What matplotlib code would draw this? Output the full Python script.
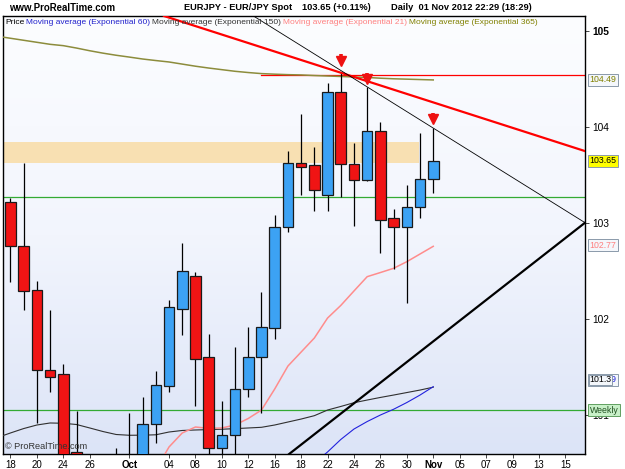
import numpy as np
import matplotlib.pyplot as plt
from matplotlib.colors import LinearSegmentedColormap
from matplotlib.transforms import blended_transform_factory

plt.rcParams['font.family'] = ['Liberation Sans', 'DejaVu Sans']

# EURJPY daily bars, 18 Sep 2012 .. 01 Nov 2012 (bar index 0..32)
opens = [103.216, 102.757, 102.299, 101.469, 101.424, 100.61, 100.45, 100.35, 100.30, 100.45,
         100.40, 100.909, 101.299, 102.101, 102.448, 101.604, 100.659, 100.789, 101.268, 101.601,
         101.909, 102.962, 103.622, 103.601, 103.292, 104.361, 103.611, 103.448, 103.958, 103.049,
         102.962, 103.163, 103.455]
closes = [102.757, 102.292, 101.469, 101.393, 100.40, 100.40, 100.30, 100.30, 100.45, 100.40,
          100.903, 101.309, 102.122, 102.500, 101.580, 100.659, 100.789, 101.268, 101.607, 101.914,
          102.962, 103.622, 103.587, 103.344, 104.361, 103.611, 103.448, 103.958, 103.031, 102.962,
          103.163, 103.455, 103.650]
highs = [103.264, 103.622, 102.396, 102.094, 101.531, 101.045, 100.52, 100.50, 100.656, 101.018,
         101.191, 101.458, 102.198, 102.795, 102.493, 101.844, 101.146, 101.711, 101.914, 102.284,
         103.083, 103.750, 104.135, 103.789, 104.455, 104.559, 103.830, 104.420, 104.049, 103.146,
         103.396, 103.934, 103.986]
lows = [102.389, 102.094, 100.920, 101.243, 100.30, 100.30, 100.20, 100.15, 100.20, 100.25,
        100.30, 100.705, 101.243, 101.833, 101.094, 100.55, 100.55, 100.55, 101.191, 101.018,
        101.792, 102.903, 103.292, 103.128, 103.128, 103.274, 102.972, 103.438, 102.684, 102.518,
        102.163, 103.055, 103.316]

# moving averages (first value belongs to bar index given by *_start)
ema365_start = -1
ema365 = [104.945, 104.924, 104.903, 104.882, 104.861, 104.847, 104.822, 104.794, 104.769, 104.747,
          104.728, 104.708, 104.692, 104.677, 104.655, 104.633, 104.614, 104.597, 104.580, 104.567,
          104.556, 104.550, 104.545, 104.542, 104.536, 104.531, 104.526, 104.521, 104.516, 104.508,
          104.502, 104.498, 104.494, 104.49]
ema150_start = -1
ema150 = [100.765, 100.813, 100.859, 100.896, 100.917, 100.914, 100.901, 100.865, 100.828, 100.797,
          100.789, 100.790, 100.794, 100.823, 100.839, 100.844, 100.848, 100.852, 100.858, 100.865,
          100.872, 100.896, 100.927, 100.958, 100.993, 101.052, 101.089, 101.128, 101.156, 101.183,
          101.208, 101.234, 101.260, 101.29]
ema60_start = 20
ema60 = [100.25, 100.32, 100.40, 100.50, 100.615, 100.745, 100.854, 100.932, 101.0, 101.060,
         101.130, 101.208, 101.295]
ema21_start = 11
ema21 = [100.43, 100.667, 100.813, 100.875, 100.861, 100.865, 100.896, 100.964, 101.052, 101.271,
         101.510, 101.656, 101.802, 102.010, 102.141, 102.292, 102.441, 102.484, 102.528, 102.597,
         102.677, 102.757]

# drawn objects
zone_low, zone_high, zone_end = 103.628, 103.847, 30.95
green_levels = [103.268, 101.052]
red_level, red_level_start = 104.538, 19.0
red_trend = [(24.19, 104.601), (43.62, 103.743)]
thin_trend = [(26.97, 104.420), (43.49, 103.003)]
thick_trend = [(21.16, 100.601), (43.49, 103.003)]
arrow_x = [25, 27, 32]
arrow_tip = [104.664, 104.472, 104.055]

tick_pos = [0, 2, 4, 6, 9, 12, 14, 16, 18, 20, 22, 24, 26, 28, 30, 32, 34, 36, 38, 40, 42]
tick_labels = ['18', '20', '24', '26', 'Oct', '04', '08', '10', '12', '16', '18', '22', '24',
               '26', '30', 'Nov', '05', '07', '09', '13', '15']

fig = plt.figure(figsize=(6.25, 4.69), dpi=100)
ax = fig.add_axes([0.0043, 0.032, 0.9322, 0.9339])
x0, x1 = -0.59, 43.51
y0, y1 = 100.594, 105.156

bg = LinearSegmentedColormap.from_list('bg', ['#fcfdff', '#f2f5fd', '#dce4f7'])
ax.imshow(np.linspace(0, 1, 256).reshape(-1, 1), cmap=bg, extent=(x0, x1, y0, y1),
          aspect='auto', origin='upper', zorder=0)

# support zone and levels
ax.fill_between([x0, zone_end], zone_low, zone_high, color='#f8e0b2', lw=0, zorder=1)
for lv in green_levels:
    ax.axhline(lv, color='#33aa33', lw=0.9, zorder=2)
ax.plot([red_level_start, x1], [red_level, red_level], color='#ff0000', lw=0.9, zorder=2)

# moving averages
ax.plot(np.arange(len(ema365)) + ema365_start, ema365, color='#8c8c3c', lw=1.1, zorder=3)
ax.plot(np.arange(len(ema150)) + ema150_start, ema150, color='#303030', lw=0.8, zorder=3)
ax.plot(np.arange(len(ema60)) + ema60_start, ema60, color='#2222dd', lw=0.8, zorder=3)
ax.plot(np.arange(len(ema21)) + ema21_start, ema21, color='#ff8c8c', lw=1.1, zorder=3)

# candles
idx = np.arange(len(opens))
o = np.array(opens)
c = np.array(closes)
cols = np.where(c >= o, '#3ca2f4', '#f01414')
ax.vlines(idx, lows, highs, color='black', lw=0.9, zorder=4)
ax.bar(idx, c - o, bottom=o, width=0.8, color=cols, edgecolor='#1a1a1a', lw=0.9, zorder=5)

# trend lines
ax.axline(red_trend[0], red_trend[1], color='#ff0000', lw=1.6, zorder=6)
ax.axline(thin_trend[0], thin_trend[1], color='black', lw=0.6, zorder=6)
ax.axline(thick_trend[0], thick_trend[1], color='black', lw=1.6, zorder=6)

# red down arrows above the rejected highs
for xa, ya in zip(arrow_x, arrow_tip):
    ax.plot([xa, xa], [ya + 0.04, ya + 0.095], color='#ee1111', lw=2.6,
            solid_capstyle='butt', zorder=7)
    ax.plot(xa, ya + 0.028, marker='v', ms=6.5, color='#ee1111', mec='#ee1111', zorder=7)

ax.set_xlim(x0, x1)
ax.set_ylim(y0, y1)

ax.yaxis.tick_right()
ax.set_yticks([101, 102, 103, 104, 105])
ax.set_yticklabels(['101', '102', '103', '104', '105'])
ax.get_yticklabels()[-1].set_fontweight('bold')
ax.set_xticks(tick_pos)
ax.set_xticklabels(tick_labels)
for t in ax.get_xticklabels():
    if t.get_text() in ('Oct', 'Nov'):
        t.set_fontweight('bold')
ax.tick_params(axis='both', direction='out', length=3, width=0.7, color='#444444',
               labelsize=7.3, pad=2)
ax.tick_params(axis='x', labelsize=7, pad=1)
for s in ax.spines.values():
    s.set_color('black')
    s.set_linewidth(1)

# value boxes on the price axis
tr = blended_transform_factory(ax.transAxes, ax.transData)
def tag(txt, y, fc, tc, ec='#8a9aaa', pad=0.18):
    ax.text(1.0075, y, txt, transform=tr, va='center', ha='left', fontsize=6.3, color=tc,
            bbox=dict(boxstyle='square,pad=%s' % pad, fc=fc, ec=ec, lw=0.7), clip_on=False,
            zorder=9)

tag('104.49', 104.49, '#f4f7fb', '#808000')
tag('103.65', 103.65, '#ffff00', 'black')
tag('102.77', 102.77, '#f4f7fb', '#ff8080')
tag('101.39', 101.365, '#f4f7fb', '#2222dd')
tag('101.3', 101.365, '#f4f7fb', 'black', pad=0.05)
tag('Weekly', 101.05, '#c8f0c8', '#205020', ec='#60a060')

ax.text(0.004, 0.012, '\u00a9 ProRealTime.com', transform=ax.transAxes, fontsize=6.6,
        color='#333333', zorder=10)

# header
fig.text(9 / 625, 0.983, 'www.ProRealTime.com', fontsize=6.9, fontweight='bold', va='center')
fig.text(292 / 625, 0.983, 'EURJPY - EUR/JPY Spot', fontsize=6.7, fontweight='bold',
         va='center', ha='right')
fig.text(302 / 625, 0.983, '103.65 (+0.11%)', fontsize=6.7, fontweight='bold', va='center')
fig.text(391 / 625, 0.983, 'Daily  01 Nov 2012 22:29 (18:29)', fontsize=6.7, fontweight='bold',
         va='center')

# legend line
legend = [('Price', 'black', 5), ('Moving average (Exponential 60)', '#2020cc', 26),
          ('Moving average (Exponential 150)', '#333333', 152),
          ('Moving average (Exponential 21)', '#ff8080', 283),
          ('Moving average (Exponential 365)', '#808000', 409)]
for txt, col, px in legend:
    fig.text(px / 625, 0.951, txt, fontsize=6.0, color=col, va='center', zorder=10)

plt.savefig('out.png', dpi=100)
